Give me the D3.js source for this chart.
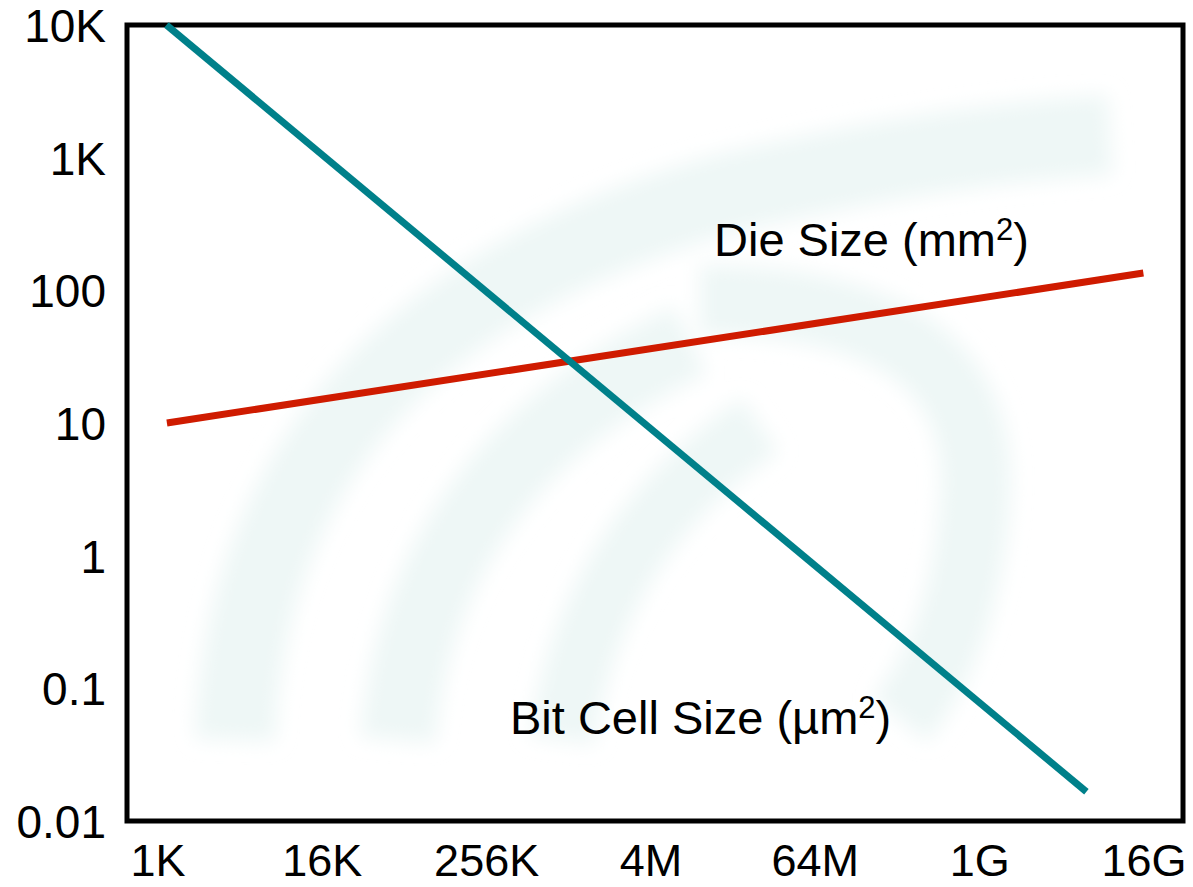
<!DOCTYPE html>
<html>
<head>
<meta charset="utf-8">
<script src="https://cdn.jsdelivr.net/npm/d3@7"></script>
<style>
  body { margin: 0; background: #fff; }
  text { font-family: "Liberation Sans", Arial, sans-serif; fill: #000; }
</style>
</head>
<body>
<svg id="chart" width="1193" height="887"></svg>
<script>
// memory capacity (bits) on x, log2 axis
var xTickValues = [1024, 16384, 262144, 4194304, 67108864, 1073741824, 17179869184];
var xTickLabels = ["1K", "16K", "256K", "4M", "64M", "1G", "16G"];
// size on y, log10 axis
var yTickValues = [10000, 1000, 100, 10, 1, 0.1, 0.01];
var yTickLabels = ["10K", "1K", "100", "10", "1", "0.1", "0.01"];

// series: [bits, size]
var bitCellBits = [1180, 6.5e9];
var bitCellSize = [10000, 0.0166];
var dieBits = [1190, 1.7e10];
var dieSize = [10, 135];

var svg = d3.select("#chart");

var x = d3.scaleLog().base(2)
    .domain([1024, 17179869184])
    .range([158, 1144]);

var y = d3.scaleLog()
    .domain([0.01, 10000])
    .range([821, 25]);

// faint watermark in the background
var defs = svg.append("defs");
defs.append("filter").attr("id", "blur")
    .append("feGaussianBlur").attr("stdDeviation", 10);

var wm = svg.append("g")
    .attr("filter", "url(#blur)")
    .attr("fill", "none")
    .attr("stroke", "#eef7f6");
var arcs = [
  ["M 235 740 Q 250 330 720 195 Q 930 145 1110 135", 80],
  ["M 398 740 Q 420 470 690 340", 75],
  ["M 562 740 Q 590 540 760 425", 65],
  ["M 700 300 Q 990 300 975 500 Q 965 640 900 720", 70]
];
arcs.forEach(function(a){
  wm.append("path").attr("d", a[0]).attr("stroke-width", a[1]);
});

// frame
svg.append("rect")
    .attr("x", 127)
    .attr("y", 25)
    .attr("width", 1183 - 127)
    .attr("height", 821 - 25)
    .attr("fill", "none")
    .attr("stroke", "#000")
    .attr("stroke-width", 5);

// y tick labels
svg.selectAll(".ylab")
    .data(yTickValues)
  .enter().append("text")
    .attr("class", "ylab")
    .attr("x", 106)
    .attr("y", function(d){ return y(d) + 17; })
    .attr("text-anchor", "end")
    .style("font-size", "46px")
    .text(function(d,i){ return yTickLabels[i]; });

// x tick labels
svg.selectAll(".xlab")
    .data(xTickValues)
  .enter().append("text")
    .attr("class", "xlab")
    .attr("x", function(d){ return x(d); })
    .attr("y", 876)
    .attr("text-anchor", "middle")
    .style("font-size", "45px")
    .text(function(d,i){ return xTickLabels[i]; });

var line = d3.line()
    .x(function(d){ return x(d[0]); })
    .y(function(d){ return y(d[1]); });

svg.append("path")
    .datum(d3.zip(dieBits, dieSize))
    .attr("d", line)
    .attr("fill", "none")
    .attr("stroke", "#cf1b00")
    .attr("stroke-width", 7);

svg.append("path")
    .datum(d3.zip(bitCellBits, bitCellSize))
    .attr("d", line)
    .attr("fill", "none")
    .attr("stroke", "#00808a")
    .attr("stroke-width", 7);

// series labels
function label(px, py, main, unit){
  var t = svg.append("text")
      .attr("x", px)
      .attr("y", py)
      .style("font-size", "47px");
  t.append("tspan").text(main + " (" + unit);
  t.append("tspan").attr("dy", -16).style("font-size", "31px").text("2");
  t.append("tspan").attr("dy", 16).text(")");
}
label(714, 256, "Die Size", "mm");
label(510, 734, "Bit Cell Size", "\u00b5m");
</script>
</body>
</html>
